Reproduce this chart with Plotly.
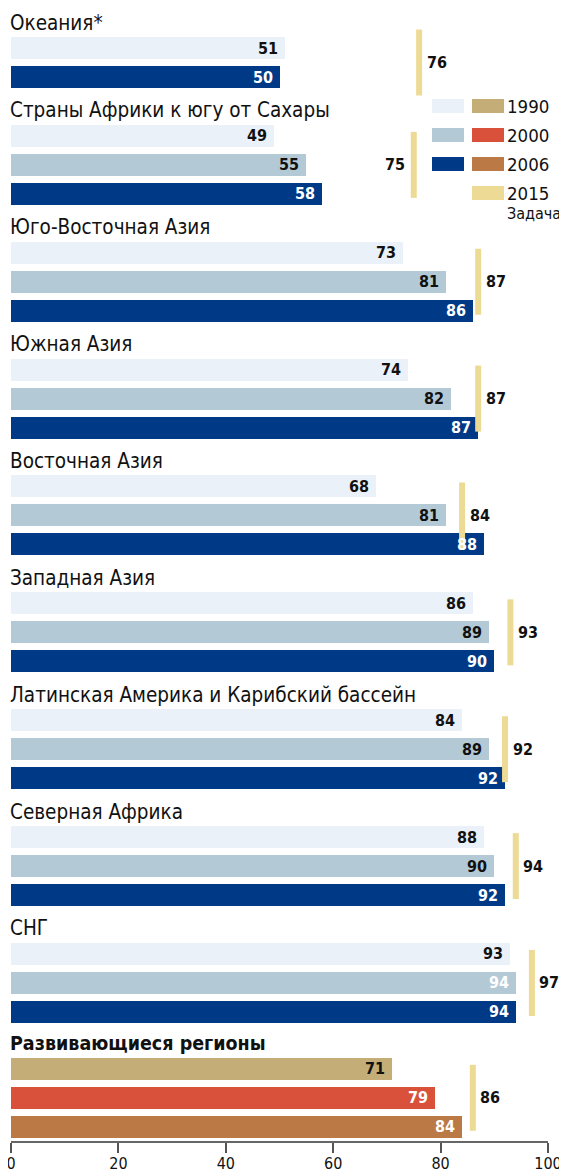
import plotly.graph_objects as go

# ---------------- data ----------------
regions = [
    "Океания*",
    "Страны Африки к югу от Сахары",
    "Юго-Восточная Азия",
    "Южная Азия",
    "Восточная Азия",
    "Западная Азия",
    "Латинская Америка и Карибский бассейн",
    "Северная Африка",
    "СНГ",
]
v1990 = [51, 49, 73, 74, 68, 86, 84, 88, 93]
v2000 = [None, 55, 81, 82, 81, 89, 89, 90, 94]
v2006 = [50, 58, 86, 87, 88, 90, 92, 92, 94]
target2015 = [76, 75, 87, 87, 84, 93, 92, 94, 97]

dev_label = "Развивающиеся регионы"
dev_values = [71, 79, 84]  # 1990, 2000, 2006
dev_target = 86

years = ["1990", "2000", "2006", "2015"]
goal_word = "Задача"
tick_vals = [0, 20, 40, 60, 80, 100]

# ---------------- style ----------------
OFF = 8                     # page body margin
W, H = 567 - OFF, 1170 - OFF
PLOT_L, PLOT_R = 11, 548    # window px
PLOT_T, PLOT_B = OFF, 1141
ML, MR = PLOT_L - OFF, W - (PLOT_R - OFF)
MT, MB = PLOT_T - OFF, H - (PLOT_B - OFF)
PLOT_W = PLOT_R - PLOT_L
PITCH = 29.0          # px between bar centres
FIRST = 48.0          # window px centre of first bar
BAR_W = 22.0 / PITCH
GROUP_GAP = 1.03
HEADER_OFF = 25.5 / PITCH
TARGET_HALF = 33.0 / PITCH

FONT = "DejaVu Sans Condensed, DejaVu Sans, sans-serif"
reg_colors = ["#EAF1F8", "#B3CAD6", "#003A87"]
dev_colors = ["#C4AD77", "#D9513A", "#BB7946"]
goal_color = "#EDDB95"
reg_text = ["#111111", "#111111", "#FFFFFF"]
dev_text = ["#111111", "#FFFFFF", "#FFFFFF"]
white_2000 = {"СНГ"}
left_goal_label = {"Страны Африки к югу от Сахары"}


def py2y(py):
    return (py - FIRST) / PITCH


def px2paper(px):
    return (px - PLOT_L) / PLOT_W


# ---------------- positions ----------------
series_reg = [v1990, v2000, v2006]
groups = []
cursor = 0.0
for i, name in enumerate(regions):
    bars = []
    for s in range(3):
        val = series_reg[s][i]
        if val is None:
            continue
        col = reg_text[s]
        if s == 1 and name in white_2000:
            col = "#FFFFFF"
        bars.append((val, cursor, reg_colors[s], col, s))
        cursor += 1.0
    groups.append(dict(name=name, bars=bars, target=target2015[i], bold=False))
    cursor += GROUP_GAP
cursor -= 0.07
bars = []
for s, val in enumerate(dev_values):
    bars.append((val, cursor, dev_colors[s], dev_text[s], s))
    cursor += 1.0
groups.append(dict(name=dev_label, bars=bars, target=dev_target, bold=True))

fig = go.Figure()
annotations = []
shapes = []

# bars: one trace per colour
trace_data = {}
for g in groups:
    for val, y, color, tcol, s in g["bars"]:
        trace_data.setdefault(color, ([], []))
        trace_data[color][0].append(val)
        trace_data[color][1].append(y)
for color, (xs, ys) in trace_data.items():
    fig.add_trace(go.Bar(
        x=xs, y=ys, orientation="h", width=BAR_W,
        marker=dict(color=color, line=dict(width=0)),
        hoverinfo="x", showlegend=False,
    ))

for g in groups:
    ys = [b[1] for b in g["bars"]]
    first, last = min(ys), max(ys)
    centre = (first + last) / 2.0
    # header
    annotations.append(dict(
        x=0, y=first - HEADER_OFF, xref="paper", yref="y",
        text=g["name"], showarrow=False, xanchor="left", yanchor="middle",
        xshift=-3,
        font=dict(family=FONT, size=19.5 if g["bold"] else 20.5,
                  color="#111111",
                  weight="bold" if g["bold"] else "normal"),
    ))
    # value labels
    for val, y, color, tcol, s in g["bars"]:
        annotations.append(dict(
            x=val, y=y, xref="x", yref="y", text=str(val), showarrow=False,
            xanchor="right", yanchor="middle", xshift=-5,
            font=dict(family=FONT, size=16, color=tcol, weight="bold"),
        ))
    # target line
    shapes.append(dict(
        type="line", xref="x", yref="y", x0=g["target"], x1=g["target"],
        y0=centre - TARGET_HALF, y1=centre + TARGET_HALF,
        line=dict(color=goal_color, width=6), layer="above",
    ))
    left = g["name"] in left_goal_label
    annotations.append(dict(
        x=g["target"], y=centre, xref="x", yref="y", text=str(g["target"]),
        showarrow=False, xanchor="right" if left else "left", yanchor="middle",
        xshift=-6.5 if left else 5.5,
        font=dict(family=FONT, size=16, color="#111111", weight="bold"),
    ))

# ---------------- custom legend ----------------
row_tops = [99, 128, 157, 186]
for r in range(3):
    shapes.append(dict(
        type="rect", xref="paper", yref="y",
        x0=px2paper(432), x1=px2paper(464),
        y0=py2y(row_tops[r]), y1=py2y(row_tops[r] + 14),
        fillcolor=reg_colors[r], line=dict(width=0), layer="above",
    ))
right_cols = dev_colors + [goal_color]
for r in range(4):
    shapes.append(dict(
        type="rect", xref="paper", yref="y",
        x0=px2paper(472), x1=px2paper(504),
        y0=py2y(row_tops[r]), y1=py2y(row_tops[r] + 14),
        fillcolor=right_cols[r], line=dict(width=0), layer="above",
    ))
    annotations.append(dict(
        x=px2paper(505), y=py2y(row_tops[r] + 7), xref="paper", yref="y",
        text=years[r], showarrow=False, xanchor="left", yanchor="middle",
        font=dict(family=FONT, size=18.5, color="#111111"),
    ))
annotations.append(dict(
    x=px2paper(505), y=py2y(213), xref="paper", yref="y",
    text=goal_word, showarrow=False, xanchor="left", yanchor="middle",
    font=dict(family=FONT, size=16, color="#111111"),
))

fig.update_layout(
    width=W, height=H, template=None,
    margin=dict(l=ML, r=MR, t=MT, b=MB, pad=0, autoexpand=False),
    paper_bgcolor="white", plot_bgcolor="white",
    barmode="overlay", bargap=0,
    showlegend=False,
    annotations=annotations, shapes=shapes,
    xaxis=dict(
        range=[0, 100], tickvals=tick_vals, ticks="outside", ticklen=10,
        tickwidth=1.5, tickcolor="#555555", showline=True, linecolor="#666666",
        linewidth=1.5, showgrid=False, zeroline=False, fixedrange=True,
        ticklabelstandoff=-3, ticklabeloverflow="allow",
        tickfont=dict(family=FONT, size=16, color="#111111"),
    ),
    yaxis=dict(
        range=[py2y(PLOT_B), py2y(PLOT_T)], showticklabels=False,
        showgrid=False, zeroline=False, showline=False, ticks="",
        fixedrange=True,
    ),
)

fig.write_html("out.html")
